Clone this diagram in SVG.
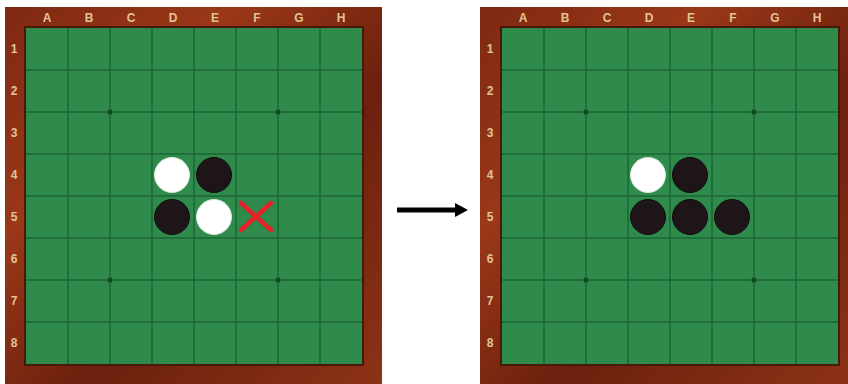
<svg xmlns="http://www.w3.org/2000/svg" width="848" height="384" viewBox="0 0 848 384">
<style>
.green{fill:#2f8b4c}
.grid{stroke:#1d6633;stroke-width:1.5;fill:none}
.lbl{font-family:"Liberation Sans",Arial,sans-serif;font-weight:bold;font-size:12px;fill:#e2c495;text-anchor:middle}
.w{fill:#ffffff;stroke:#d8e8d8;stroke-width:1}
.b{fill:#1e1519;stroke:#120c0e;stroke-width:1}
.dot{fill:#0f4a22}
</style>
<defs>
<linearGradient id="wood" x1="0" y1="0" x2="1" y2="1">
<stop offset="0" stop-color="#7e2812"/>
<stop offset="0.3" stop-color="#9a3818"/>
<stop offset="0.6" stop-color="#6c200e"/>
<stop offset="1" stop-color="#8c3216"/>
</linearGradient>
<marker id="ah" markerWidth="2.6" markerHeight="2.8" refX="0" refY="1.4" orient="auto" markerUnits="strokeWidth">
<path d="M0 0L2.6 1.4L0 2.8Z" fill="#000"/>
</marker>
</defs>

<g id="board-left">
<rect x="5" y="7" width="377" height="377" fill="url(#wood)"/>
<rect x="24" y="26" width="340" height="340" fill="#4a1808"/>
<rect x="26" y="28" width="336" height="336" class="green"/>
<path class="grid" d="M68 28V364M110 28V364M152 28V364M194 28V364M236 28V364M278 28V364M320 28V364M26 70H362M26 112H362M26 154H362M26 196H362M26 238H362M26 280H362M26 322H362"/>
<circle class="dot" cx="110" cy="112" r="2.5"/><circle class="dot" cx="278" cy="112" r="2.5"/><circle class="dot" cx="110" cy="280" r="2.5"/><circle class="dot" cx="278" cy="280" r="2.5"/>
<text class="lbl" x="47" y="22">A</text><text class="lbl" x="89" y="22">B</text><text class="lbl" x="131" y="22">C</text><text class="lbl" x="173" y="22">D</text><text class="lbl" x="215" y="22">E</text><text class="lbl" x="257" y="22">F</text><text class="lbl" x="299" y="22">G</text><text class="lbl" x="341" y="22">H</text>
<text class="lbl" x="14" y="53">1</text><text class="lbl" x="14" y="95">2</text><text class="lbl" x="14" y="137">3</text><text class="lbl" x="14" y="179">4</text><text class="lbl" x="14" y="221">5</text><text class="lbl" x="14" y="263">6</text><text class="lbl" x="14" y="305">7</text><text class="lbl" x="14" y="347">8</text>
<circle class="w" cx="172" cy="175" r="17.5"/>
<circle class="b" cx="214" cy="175" r="17.5"/>
<circle class="b" cx="172" cy="217" r="17.5"/>
<circle class="w" cx="214" cy="217" r="17.5"/>
<path d="M241 203L271 230M271 203L241 230" stroke="#e8202a" stroke-width="4.5" stroke-linecap="round"/>
</g>

<g id="connectors">
<line x1="397" y1="210" x2="455" y2="210" stroke="#000" stroke-width="5" marker-end="url(#ah)"/>
</g>

<g id="board-right">
<rect x="480" y="7" width="370" height="377" fill="url(#wood)"/>
<rect x="500" y="26" width="340" height="340" fill="#4a1808"/>
<rect x="502" y="28" width="336" height="336" class="green"/>
<path class="grid" d="M544 28V364M586 28V364M628 28V364M670 28V364M712 28V364M754 28V364M796 28V364M502 70H838M502 112H838M502 154H838M502 196H838M502 238H838M502 280H838M502 322H838"/>
<circle class="dot" cx="586" cy="112" r="2.5"/><circle class="dot" cx="754" cy="112" r="2.5"/><circle class="dot" cx="586" cy="280" r="2.5"/><circle class="dot" cx="754" cy="280" r="2.5"/>
<text class="lbl" x="523" y="22">A</text><text class="lbl" x="565" y="22">B</text><text class="lbl" x="607" y="22">C</text><text class="lbl" x="649" y="22">D</text><text class="lbl" x="691" y="22">E</text><text class="lbl" x="733" y="22">F</text><text class="lbl" x="775" y="22">G</text><text class="lbl" x="817" y="22">H</text>
<text class="lbl" x="490" y="53">1</text><text class="lbl" x="490" y="95">2</text><text class="lbl" x="490" y="137">3</text><text class="lbl" x="490" y="179">4</text><text class="lbl" x="490" y="221">5</text><text class="lbl" x="490" y="263">6</text><text class="lbl" x="490" y="305">7</text><text class="lbl" x="490" y="347">8</text>
<circle class="w" cx="648" cy="175" r="17.5"/>
<circle class="b" cx="690" cy="175" r="17.5"/>
<circle class="b" cx="648" cy="217" r="17.5"/>
<circle class="b" cx="690" cy="217" r="17.5"/>
<circle class="b" cx="732" cy="217" r="17.5"/>
</g>
</svg>
